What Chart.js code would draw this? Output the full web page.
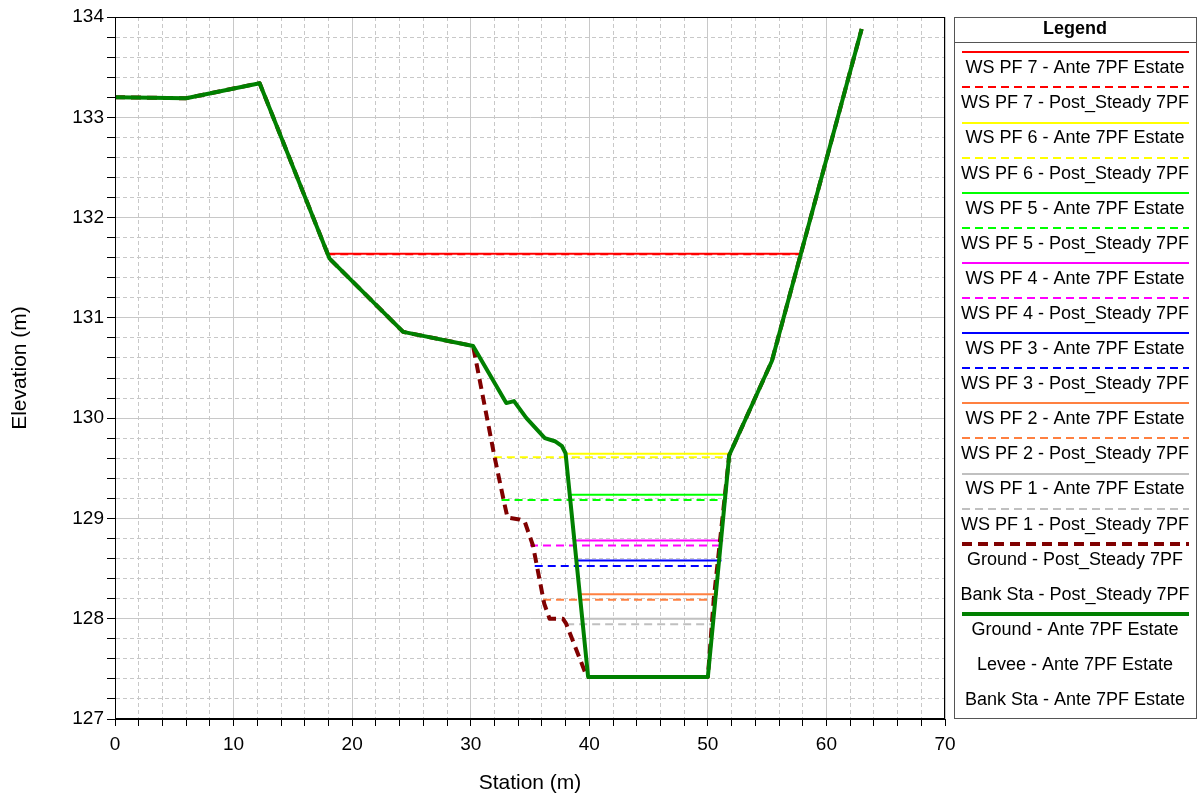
<!DOCTYPE html>
<html>
<head>
<meta charset="utf-8">
<title>Cross section</title>
<script src="https://cdn.jsdelivr.net/npm/chart.js@4/dist/chart.umd.min.js"></script>
<style>
  html, body { margin: 0; padding: 0; background: #fff; }
  #wrap { width: 1197px; height: 799px; }
</style>
</head>
<body>
<div id="wrap"><canvas id="xs" width="1197" height="799"></canvas></div>
<script>
// ground profiles (station m, elevation m)
const groundAnteSta  = [0, 6, 12.2, 18.1, 24.3, 30.2, 33.0, 33.65, 34.7, 36.25, 37.1, 37.7, 38.0, 39.9, 50.0, 51.8, 55.4, 62.97];
const groundAnteElev = [133.2, 133.19, 133.34, 131.59, 130.86, 130.72, 130.15, 130.17, 130.0, 129.80, 129.77, 129.72, 129.65, 127.42, 127.42, 129.63, 130.57, 133.88];
const groundPostSta  = [0, 6, 12.2, 18.1, 24.3, 30.2, 32.0, 32.8, 33.1, 34.1, 34.55, 35.25, 36.2, 36.65, 37.77, 38.05, 39.8, 50.0, 50.5, 51.8, 55.4, 62.97];
const groundPostElev = [133.2, 133.19, 133.34, 131.59, 130.86, 130.72, 129.62, 129.17, 129.01, 128.99, 128.97, 128.73, 128.15, 128.0, 128.0, 127.95, 127.42, 127.42, 128.2, 129.63, 130.57, 133.88];

// water surfaces, profiles PF 7 .. PF 1
const profiles    = ['PF 7', 'PF 6', 'PF 5', 'PF 4', 'PF 3', 'PF 2', 'PF 1'];
const wsAnteElev  = [131.64, 129.645, 129.235, 128.78, 128.58, 128.245, 128.0];
const wsAnteLeft  = [17.9, 37.95, 38.35, 38.7, 38.85, 39.1, 39.25];
const wsAnteRight = [57.85, 51.95, 51.55, 51.3, 51.15, 50.85, 50.5];
const wsPostElev  = [131.635, 129.61, 129.185, 128.73, 128.525, 128.19, 127.945];
const wsPostLeft  = [17.9, 31.95, 32.6, 35.0, 35.4, 36.1, 38.05];
const wsPostRight = [57.85, 51.85, 51.4, 51.0, 50.75, 50.55, 50.3];
const wsColors    = ['#ff0000', '#ffff00', '#00ff00', '#ff00ff', '#0000ff', '#ff8040', '#c0c0c0'];

const planAnte = 'Ante 7PF Estate';
const planPost = 'Post_Steady 7PF';

const xTicksMajor = 10;
const FONT = "'Liberation Sans', Arial, sans-serif";

function pts(xs, ys) {
  return xs.map((x, i) => ({ x: x, y: ys[i] }));
}

const datasets = [];
profiles.forEach((pf, i) => {
  datasets.push({
    label: 'WS ' + pf + ' - ' + planAnte,
    data: pts([wsAnteLeft[i], wsAnteRight[i]], [wsAnteElev[i], wsAnteElev[i]]),
    borderColor: wsColors[i], borderWidth: 2, borderDash: [], order: 3
  });
  datasets.push({
    label: 'WS ' + pf + ' - ' + planPost,
    data: pts([wsPostLeft[i], wsPostRight[i]], [wsPostElev[i], wsPostElev[i]]),
    borderColor: wsColors[i], borderWidth: 2, borderDash: [8, 5], order: 2
  });
});
datasets.push({
  label: 'Ground - ' + planPost,
  data: pts(groundPostSta, groundPostElev),
  borderColor: '#800000', borderWidth: 4, borderDash: [10, 6], order: 1
});
datasets.push({ label: 'Bank Sta - ' + planPost, data: [], borderWidth: 0, order: 5 });
datasets.push({
  label: 'Ground - ' + planAnte,
  data: pts(groundAnteSta, groundAnteElev),
  borderColor: '#008000', borderWidth: 4, borderDash: [], order: 0
});
datasets.push({ label: 'Levee - ' + planAnte, data: [], borderWidth: 0, order: 5 });
datasets.push({ label: 'Bank Sta - ' + planAnte, data: [], borderWidth: 0, order: 5 });

datasets.forEach(ds => {
  ds.showLine = true;
  ds.pointRadius = 0;
  ds.fill = false;
  ds.borderCapStyle = 'butt';
  ds.borderJoinStyle = 'round';
});

const isMajor = (v, step) => Math.abs(v / step - Math.round(v / step)) < 1e-6;

// frame around the plot area
const frame = {
  id: 'frame',
  afterDatasetsDraw(chart) {
    const a = chart.chartArea, c = chart.ctx;
    c.save();
    c.strokeStyle = '#000';
    c.lineWidth = 1;
    c.strokeRect(Math.round(a.left) + 0.5, Math.round(a.top) + 0.5,
      Math.round(a.right - a.left) - 1, Math.round(a.bottom - a.top) - 1);
    c.restore();
  }
};

// boxed legend on the right
const sideLegend = {
  id: 'sideLegend',
  afterDraw(chart) {
    const c = chart.ctx;
    const box = { l: 954, t: 17, r: 1196, b: 718 };
    const pitch = 35.1, firstText = 68.3, lineAbove = 16;
    c.save();
    c.strokeStyle = '#555';
    c.lineWidth = 1;
    c.strokeRect(box.l + 0.5, box.t + 0.5, box.r - box.l, box.b - box.t);
    c.beginPath();
    c.moveTo(box.l, 42.5);
    c.lineTo(box.r, 42.5);
    c.stroke();
    c.fillStyle = '#000';
    c.textAlign = 'center';
    c.textBaseline = 'middle';
    c.font = 'bold 18px ' + FONT;
    const cx = (box.l + box.r) / 2;
    c.fillText('Legend', cx, 29);
    c.font = '18px ' + FONT;
    chart.data.datasets.forEach((ds, i) => {
      const ty = firstText + i * pitch;
      if (ds.borderWidth > 0) {
        const ly = Math.round(ty - lineAbove) + (ds.borderWidth % 2 ? 0.5 : 0);
        c.save();
        c.strokeStyle = ds.borderColor;
        c.lineWidth = ds.borderWidth;
        c.setLineDash(ds.borderDash || []);
        c.beginPath();
        c.moveTo(962, ly);
        c.lineTo(1189, ly);
        c.stroke();
        c.restore();
      }
      c.fillText(ds.label, cx, ty);
    });
    c.restore();
  }
};

new Chart(document.getElementById('xs'), {
  type: 'scatter',
  data: { datasets: datasets },
  plugins: [frame, sideLegend],
  options: {
    responsive: false,
    animation: false,
    devicePixelRatio: 1,
    layout: { padding: { top: 17, right: 252, left: 0, bottom: 0 } },
    plugins: { legend: { display: false }, tooltip: { enabled: false } },
    scales: {
      x: {
        type: 'linear', min: 0, max: 70,
        afterFit(scale) { scale.height = 80; },
        ticks: {
          stepSize: 2, autoSkip: false, maxRotation: 0, padding: 7,
          color: '#000', font: { family: FONT, size: 19 },
          callback: v => isMajor(v, xTicksMajor) ? v : ''
        },
        grid: {
          color: '#c8c8c8', lineWidth: 1, tickColor: '#000', tickLength: 7
        },
        border: {
          display: true, color: '#000', width: 1,
          dash: ctx => (ctx.tick && !isMajor(ctx.tick.value, xTicksMajor)) ? [4, 3] : []
        },
        title: {
          display: true, text: 'Station (m)', color: '#000',
          font: { family: FONT, size: 21 }, padding: { top: 0, bottom: 3 }
        }
      },
      y: {
        type: 'linear', min: 127, max: 134,
        afterFit(scale) { scale.width = 115; },
        ticks: {
          stepSize: 0.2, autoSkip: false, padding: 3,
          color: '#000', font: { family: FONT, size: 19 },
          callback: v => isMajor(v, 1) ? Math.round(v) : ''
        },
        grid: {
          color: '#c8c8c8', lineWidth: 1, tickColor: '#000', tickLength: 8
        },
        border: {
          display: true, color: '#000', width: 1,
          dash: ctx => (ctx.tick && !isMajor(ctx.tick.value, 1)) ? [4, 3] : []
        },
        title: {
          display: true, text: 'Elevation (m)', color: '#000',
          font: { family: FONT, size: 21 }, padding: { top: 8, bottom: 0 }
        }
      }
    }
  }
});
</script>
</body>
</html>
